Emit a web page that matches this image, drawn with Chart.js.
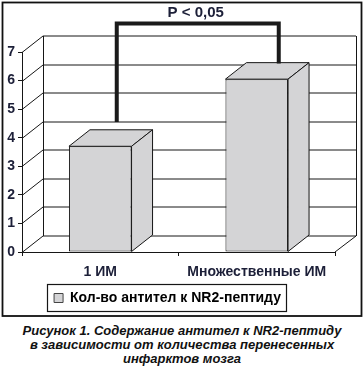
<!DOCTYPE html>
<html>
<head>
<meta charset="utf-8">
<script src="https://cdn.jsdelivr.net/npm/chart.js@4"></script>
<style>
  body { margin: 0; background: #fff; width: 364px; height: 370px; overflow: hidden; }
  #wrap { position: relative; width: 364px; height: 318px; }
  .caption {
    margin-top: 6px;
    text-align: center;
    font: italic bold 13px/14px "Liberation Sans", Arial, sans-serif;
    color: #111;
  }
</style>
</head>
<body>
<div id="wrap"><canvas id="chart"></canvas></div>
<div class="caption">Рисунок 1. Содержание антител к NR2-пептиду<br>в зависимости от количества перенесенных<br>инфарктов мозга</div>
<script>
// data
const categories = ['1 ИМ', 'Множественные ИМ'];
const antibodyValues = [3.7, 6.05];
const seriesName = 'Кол-во антител к NR2-пептиду';
const yTicks = [0, 1, 2, 3, 4, 5, 6, 7];
const pLabel = 'P < 0,05';
// bracket: left leg end, top bar, right leg end (in axis units)
const bracketLevels = [4.55, 8.0, 6.6];

const DX = 21, DY = 16.5;
const BAR_FILL = '#d4d4d6';
const LINE = '#161616';
const FONT = '"Liberation Sans", Arial, sans-serif';

Chart.defaults.font.family = FONT;
Chart.defaults.color = '#1c1f38';

// 3d walls, bar faces, bracket, frame
const depth3d = {
  id: 'depth3d',
  beforeDatasetsDraw(chart) {
    const { ctx, chartArea: a, scales: { y } } = chart;
    ctx.save();
    ctx.strokeStyle = LINE;
    ctx.lineWidth = 1;
    ctx.beginPath();
    yTicks.forEach(v => {
      const py = Math.round(y.getPixelForValue(v)) + 0.5;
      ctx.moveTo(a.left, py);
      ctx.lineTo(a.left + DX, py - DY);
      ctx.lineTo(a.right + DX, py - DY);
    });
    const top = Math.round(y.getPixelForValue(7)) + 0.5 - DY;
    const bot = Math.round(y.getPixelForValue(0)) + 0.5 - DY;
    ctx.moveTo(a.left + DX + 0.5, top);
    ctx.lineTo(a.left + DX + 0.5, bot);
    ctx.moveTo(a.right + DX + 0.5, top);
    ctx.lineTo(a.right + DX + 0.5, bot);
    ctx.moveTo(a.right, a.bottom);
    ctx.lineTo(a.right + DX, bot);
    ctx.stroke();
    ctx.restore();
  },
  afterDatasetsDraw(chart) {
    const { ctx } = chart;
    ctx.save();
    ctx.fillStyle = BAR_FILL;
    ctx.strokeStyle = LINE;
    ctx.lineWidth = 1;
    chart.getDatasetMeta(0).data.forEach(bar => {
      const { x, y: t, base, width } = bar.getProps(['x', 'y', 'base', 'width'], true);
      const l = x - width / 2, r = x + width / 2;
      ctx.beginPath();
      ctx.moveTo(l, t); ctx.lineTo(r, t);
      ctx.lineTo(r + DX, t - DY); ctx.lineTo(l + DX, t - DY);
      ctx.closePath();
      ctx.fill(); ctx.stroke();
      ctx.beginPath();
      ctx.moveTo(r, t); ctx.lineTo(r + DX, t - DY);
      ctx.lineTo(r + DX, base - DY); ctx.lineTo(r, base);
      ctx.closePath();
      ctx.fill(); ctx.stroke();
    });
    ctx.restore();
  },
  afterDraw(chart) {
    const { ctx, scales: { y } } = chart;
    const bars = chart.getDatasetMeta(0).data;
    ctx.save();
    // bracket
    const lx = bars[0].x + 16.5, rx = bars[1].x + 22;
    const yTop = y.getPixelForValue(bracketLevels[1]);
    ctx.strokeStyle = '#1a1a1a';
    ctx.lineWidth = 4;
    ctx.lineJoin = 'miter';
    ctx.beginPath();
    ctx.moveTo(lx, y.getPixelForValue(bracketLevels[0]));
    ctx.lineTo(lx, yTop);
    ctx.lineTo(rx, yTop);
    ctx.lineTo(rx, y.getPixelForValue(bracketLevels[2]));
    ctx.stroke();
    ctx.fillStyle = '#1c1f38';
    ctx.font = 'bold 15px ' + FONT;
    ctx.textAlign = 'center';
    ctx.textBaseline = 'middle';
    ctx.fillText(pLabel, (lx + rx) / 2 - 2, yTop - 11);
    // legend box
    const hb = chart.legend.legendHitBoxes[0];
    if (hb) {
      ctx.lineWidth = 1.2;
      ctx.strokeStyle = LINE;
      ctx.strokeRect(Math.round(hb.left) - 6.5, Math.round(hb.top) - 6.5,
                     Math.round(hb.width) + 12, Math.round(hb.height) + 13);
    }
    // outer frame
    ctx.lineWidth = 1.8;
    ctx.strokeStyle = '#111';
    ctx.strokeRect(2.5, 2.5, 359, 313.5);
    ctx.restore();
  }
};

const data = {
  labels: categories,
  datasets: [{
    label: seriesName,
    data: antibodyValues,
    backgroundColor: BAR_FILL,
    borderColor: LINE,
    borderWidth: 1,
    borderSkipped: false,
    categoryPercentage: 1,
    barPercentage: 0.4
  }]
};

const options = {
  responsive: true,
  maintainAspectRatio: false,
  animation: false,
  layout: { padding: { top: 52, right: 29, bottom: 3, left: 0 } },
  plugins: {
    legend: {
      position: 'bottom',
      labels: {
        boxWidth: 9,
        boxHeight: 9,
        padding: 10,
        color: '#1c1f38',
        font: { size: 14, weight: 'bold' },
        generateLabels: (chart) => [{
          text: seriesName,
          fillStyle: BAR_FILL,
          strokeStyle: '#444',
          lineWidth: 1,
          datasetIndex: 0
        }]
      }
    },
    tooltip: { enabled: false }
  },
  scales: {
    x: {
      grid: { offset: true, drawOnChartArea: false, tickLength: 4, color: LINE },
      border: { color: LINE, width: 1 },
      ticks: { padding: 8, color: '#1c1f38', font: { size: 14, weight: 'bold' } },
      afterFit: s => { s.height = 29; }
    },
    y: {
      min: 0,
      max: 7,
      ticks: { stepSize: 1, padding: 3, color: '#1c1f38', font: { size: 14, weight: 'bold' } },
      grid: { drawOnChartArea: false, tickLength: 4, color: LINE },
      border: { color: LINE, width: 1 },
      afterFit: s => { s.width = 22; }
    }
  }
};

new Chart(document.getElementById('chart'), {
  type: 'bar',
  data,
  options,
  plugins: [depth3d]
});
</script>
</body>
</html>
